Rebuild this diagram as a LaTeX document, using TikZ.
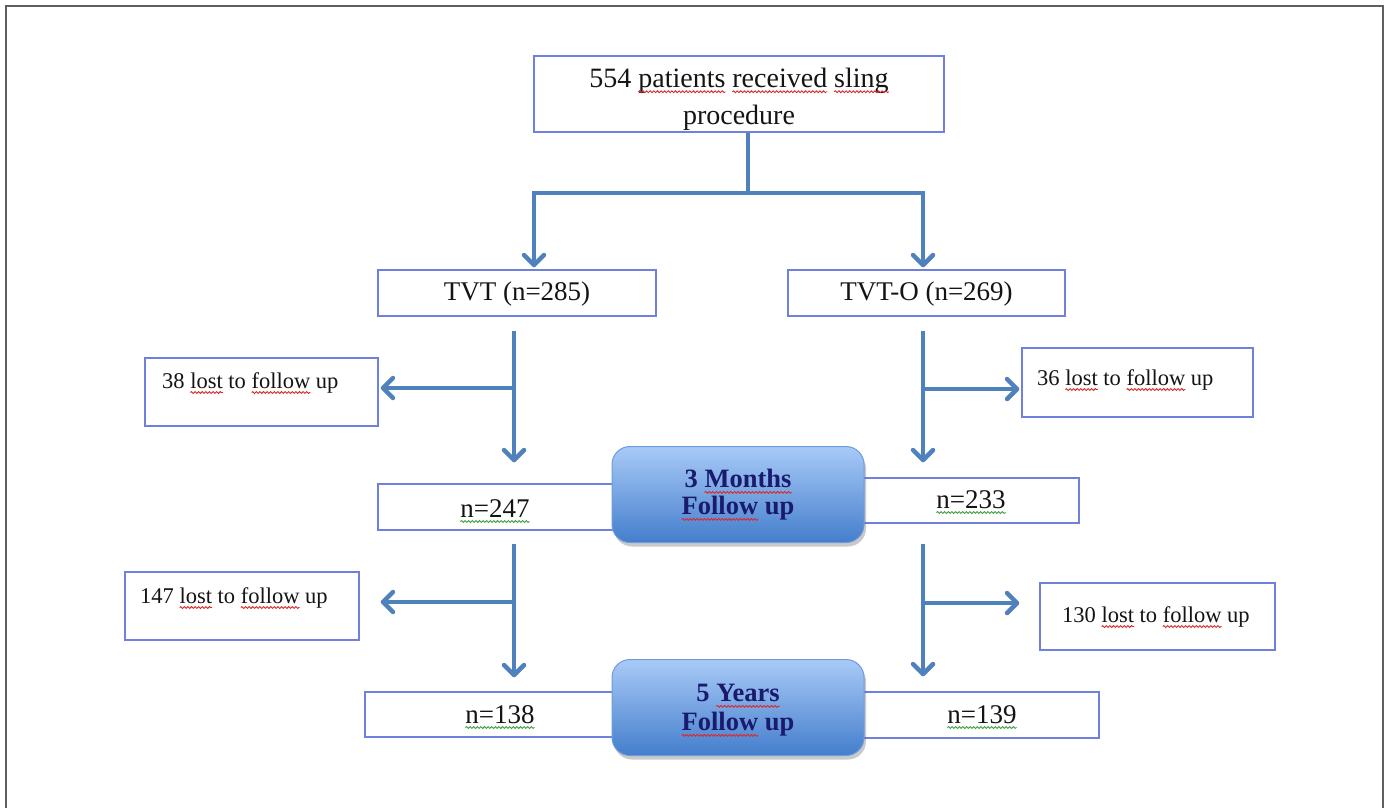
\documentclass[tikz,border=0pt]{standalone}
\usepackage{fontspec}
\setmainfont{Liberation Serif}
\usetikzlibrary{arrows.meta,shadows,decorations.pathmorphing}
\definecolor{boxline}{RGB}{112,128,222}
\definecolor{arrowblue}{RGB}{79,129,189}
\definecolor{navy}{RGB}{26,26,110}
\definecolor{framegray}{RGB}{95,95,95}
\definecolor{gtop}{RGB}{168,202,247}
\definecolor{gbot}{RGB}{68,126,204}
\definecolor{gbord}{RGB}{110,155,220}
\definecolor{sqred}{RGB}{220,40,40}
\definecolor{sqgreen}{RGB}{60,160,60}
\definecolor{txtblack}{RGB}{20,20,20}
\newsavebox{\sqbox}
\newcommand{\sq}[2]{\sbox{\sqbox}{#2}\leavevmode\rlap{\usebox{\sqbox}}\tikz[baseline=0pt]{\path[use as bounding box] (0pt,0pt) rectangle (\wd\sqbox,0pt);\draw[sharp corners,draw=#1,line width=0.9pt,decorate,decoration={snake,amplitude=0.9pt,segment length=3.6pt}] (0pt,-4.5pt) -- (\wd\sqbox,-4.5pt);}}
\begin{document}
\begin{tikzpicture}[x=1pt,y=-1pt,
  box/.style={draw=boxline,line width=1.4pt,fill=white,rectangle,inner sep=0pt},
  txt/.style={inner sep=0pt,text=txtblack},
  big/.style={font=\fontsize{27}{30}\selectfont},
  small/.style={font=\fontsize{22.5}{26}\selectfont},
  conn/.style={draw=arrowblue,line width=4.5pt},
  arr/.style={conn,-{Straight Barb[length=10pt,width=20pt,round]}},
  yr/.style={rectangle,rounded corners=18pt,draw=gbord,line width=1pt,top color=gtop,bottom color=gbot,
    drop shadow={shadow xshift=2pt,shadow yshift=-4pt,opacity=0.35,fill=black!60},
    minimum width=252pt,minimum height=96pt,inner sep=0pt},
  yrt/.style={inner sep=0pt,align=center,font=\bfseries\fontsize{26.5}{27}\selectfont,text=navy}]
\useasboundingbox (0,0) rectangle (1388,807);
\draw[framegray,line width=2pt] (6,808) -- (6,6) -- (1383,6) -- (1383,808);

% boxes
\node[box,minimum width=410pt,minimum height=76pt] (top) at (739,94) {};
\node[txt,align=center,font=\fontsize{28}{30}\selectfont] (topt) at (739,99)
  {554 \sq{sqred}{patients} \sq{sqred}{received} \sq{sqred}{sling}\\[7pt]procedure};
\node[box,minimum width=278pt,minimum height=46pt] (tvt) at (517,293) {};
\node[txt,big,anchor=base] (tvtt) at (517,300) {TVT (n=285)};
\node[box,minimum width=277pt,minimum height=46pt] (tvto) at (926.5,293) {};
\node[txt,big,anchor=base] (tvtot) at (926.5,300) {TVT-O (n=269)};

\node[box,minimum width=233pt,minimum height=68pt] (l1) at (261.5,392) {};
\node[txt,small,anchor=base west] (l1t) at (162,388) {38 \sq{sqred}{lost} to \sq{sqred}{follow} up};
\node[box,minimum width=231pt,minimum height=69pt] (l2) at (1137.5,382.5) {};
\node[txt,small,anchor=base west] (l2t) at (1037,385) {36 \sq{sqred}{lost} to \sq{sqred}{follow} up};

\node[box,minimum width=247pt,minimum height=46pt] (n247) at (501.5,507) {};
\node[txt,big,anchor=base] (n247t) at (495,517) {\sq{sqgreen}{n=247}};
\node[box,minimum width=229pt,minimum height=45pt] (n233) at (964.5,500.5) {};
\node[txt,big,anchor=base] (n233t) at (971,508) {\sq{sqgreen}{n=233}};
\node[yr] (m3) at (738,494.5) {};
\node[yrt] (m3t) at (738,495) {3 \sq{sqred}{Months}\\\sq{sqred}{Follow} up};

\node[box,minimum width=234pt,minimum height=68pt] (l3) at (242,606) {};
\node[txt,small,anchor=base west] (l3t) at (140,603) {147 \sq{sqred}{lost} to \sq{sqred}{follow} up};
\node[box,minimum width=235pt,minimum height=67pt] (l4) at (1157.5,616.5) {};
\node[txt,small,anchor=base west] (l4t) at (1062,622) {130 \sq{sqred}{lost} to \sq{sqred}{follow} up};

\node[box,minimum width=260pt,minimum height=45pt] (n138) at (495,714.5) {};
\node[txt,big,anchor=base] (n138t) at (500,723) {\sq{sqgreen}{n=138}};
\node[box,minimum width=249pt,minimum height=46pt] (n139) at (974.5,715) {};
\node[txt,big,anchor=base] (n139t) at (982,723) {\sq{sqgreen}{n=139}};
\node[yr] (y5) at (738,707.5) {};
\node[yrt] (y5t) at (738,710.5) {5 \sq{sqred}{Years}\\[2pt]\sq{sqred}{Follow} up};

% connectors
\coordinate (cT) at (748,193);
\coordinate (cL) at (514,0);
\coordinate (cR) at (923,0);
\draw[conn] ([xshift=9pt]top.south) -- (cT);
\draw[arr,shorten >=2pt] (cT) -| ([xshift=17pt]tvt.north);
\draw[arr,shorten >=2pt] (cT) -| ([xshift=-3.5pt]tvto.north);

\draw[arr,shorten <=14pt,shorten >=21pt] (tvt.south -| cL) -- (n247.north -| cL);
\coordinate (b1) at (514,388);
\draw[arr,shorten >=2pt] (b1) -- (b1 -| l1.east);
\draw[arr,shorten <=14pt,shorten >=15pt] (tvto.south -| cR) -- (n233.north -| cR);
\coordinate (b2) at (923,389);
\draw[arr,shorten >=2pt] (b2) -- (b2 -| l2.west);

\draw[arr,shorten <=13pt,shorten >=14pt] (n247.south -| cL) -- (n138.north -| cL);
\coordinate (b3) at (514,602);
\draw[arr,shorten >=21pt] (b3) -- (b3 -| l3.east);
\draw[arr,shorten <=20pt,shorten >=15pt] (n233.south -| cR) -- (n139.north -| cR);
\coordinate (b4) at (923,603);
\draw[arr,shorten >=20pt] (b4) -- (b4 -| l4.west);
\end{tikzpicture}
\end{document}
